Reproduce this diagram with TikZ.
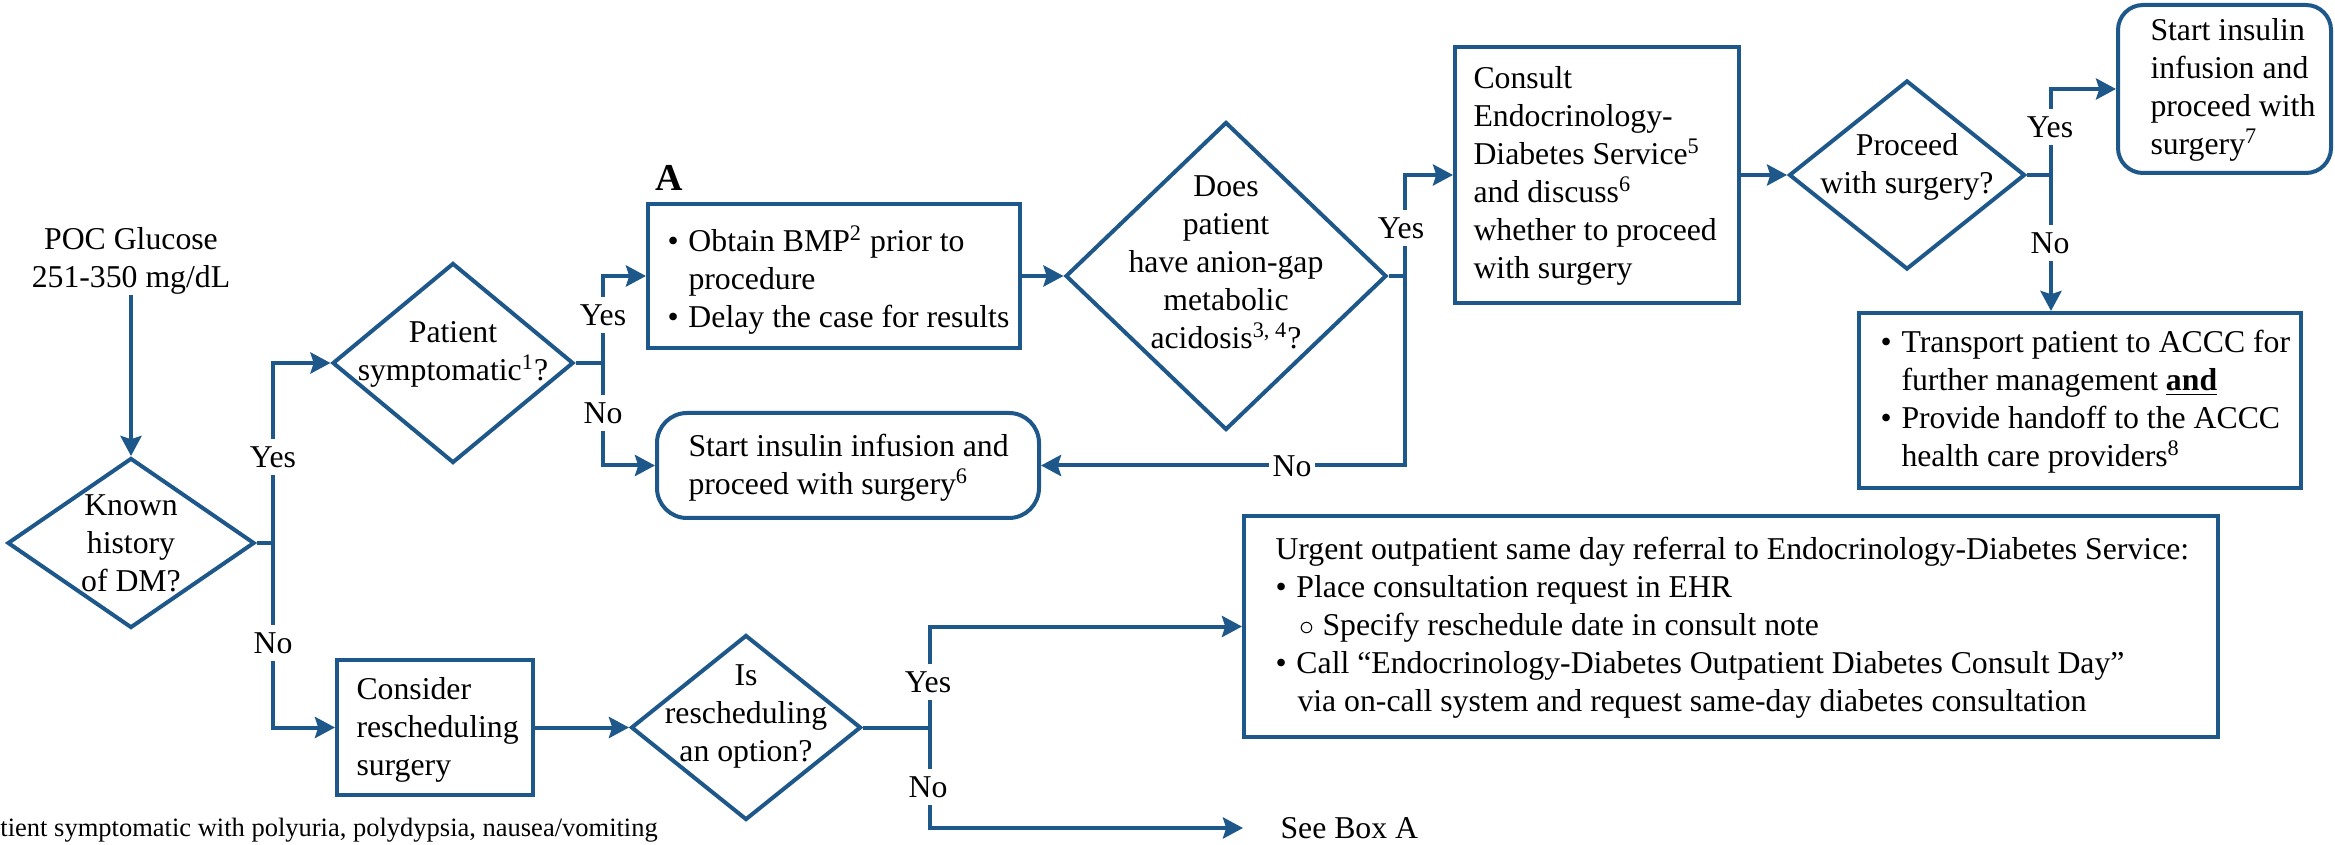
\documentclass[tikz,border=0pt]{standalone}
\usepackage{fontspec}
\setmainfont{Liberation Serif}
\usetikzlibrary{shapes.geometric,arrows.meta}
\definecolor{fb}{RGB}{30,88,138}
\newdimen\px \px=0.4pt
\newcommand{\bul}{\makebox[21\px][l]{\textbullet}}
\newcommand{\sbul}{\makebox[23\px][l]{$\circ$}}
\begin{document}
\begin{tikzpicture}[x=0.4pt,y=-0.4pt, font=\fontsize{12.7pt}{15.2pt}\selectfont,
  ln/.style={draw=fb, line width=1.6pt},
  arr/.style={draw=fb, line width=1.6pt, -{Stealth[length=8pt,width=8.4pt,inset=1.3pt]}},
  dia/.style={ln, diamond, inner sep=0pt},
  boxr/.style={ln, rectangle, inner sep=0pt},
  rbox/.style={ln, rectangle, rounded corners=12pt, inner sep=0pt},
  txt/.style={inner sep=0pt, align=left},
  lab/.style={fill=white, inner xsep=1.5pt, inner ysep=3pt}]
\useasboundingbox (0,0) rectangle (2335,845);

% ---- nodes ----
\node[txt, align=center] (poct) at (131,261) {POC Glucose\\251-350 mg/dL};

\node[dia, minimum width=247\px, minimum height=170\px] (known) at (131,543) {};
\node[txt, align=center] (knownt) at (131,543) {Known\\history\\of DM?};

\node[dia, minimum width=241\px, minimum height=200\px] (sym) at (453,363) {};
\node[txt, align=center] (symt) at (453,354) {Patient\\symptomatic\textsuperscript{1}?};

\node[font=\bfseries\fontsize{15.2pt}{18pt}\selectfont, inner sep=0pt] (Alab) at (669,178) {A};

\node[boxr, minimum width=372\px, minimum height=144\px] (boxA) at (834,276) {};
\node[txt, anchor=west] (boxAt) at (667,280) {\bul Obtain BMP\textsuperscript{2} prior to\\\hspace*{21\px}procedure\\\bul Delay the case for results};

\node[rbox, minimum width=382\px, minimum height=105\px] (ins1) at (848,465.5) {};
\node[txt, anchor=west] (ins1t) at (688,468) {Start insulin infusion and\\proceed with surgery\textsuperscript{6}};

\node[dia, minimum width=321\px, minimum height=308\px] (anion) at (1226,276) {};
\node[txt, align=center] (aniont) at (1226,262) {Does\\patient\\have anion-gap\\metabolic\\acidosis\textsuperscript{3, 4}?};

\node[boxr, minimum width=284\px, minimum height=256\px] (consult) at (1597,175) {};
\node[txt, anchor=west] (consultt) at (1473,176) {Consult\\Endocrinology-\\Diabetes Service\textsuperscript{5}\\and discuss\textsuperscript{6}\\whether to proceed\\with surgery};

\node[dia, minimum width=236\px, minimum height=189\px] (proceed) at (1907,175) {};
\node[txt, align=center] (proceedt) at (1907,167) {Proceed\\with surgery?};

\node[rbox, rounded corners=10pt, minimum width=213\px, minimum height=168\px] (ins2) at (2224.5,89) {};
\node[txt, anchor=west] (ins2t) at (2150,90) {Start insulin\\infusion and\\proceed with\\surgery\textsuperscript{7}};

\node[boxr, minimum width=442\px, minimum height=175\px] (transport) at (2080,400.5) {};
\node[txt, anchor=west] (transportt) at (1880,402) {\bul Transport patient to ACCC for\\\hspace*{21\px}further management \underline{\textbf{and}}\\\bul Provide handoff to the ACCC\\\hspace*{21\px}health care providers\textsuperscript{8}};

\node[boxr, minimum width=196\px, minimum height=135\px] (consider) at (435,727.5) {};
\node[txt, anchor=west] (considert) at (356,730) {Consider\\rescheduling\\surgery};

\node[dia, minimum width=230\px, minimum height=185\px] (isr) at (746,727.5) {};
\node[txt, align=center] (isrt) at (746,716) {Is\\rescheduling\\an option?};

\node[boxr, minimum width=974\px, minimum height=221\px] (urgent) at (1731,626.5) {};
\node[txt, anchor=west] (urgentt) at (1275,628) {Urgent outpatient same day referral to Endocrinology-Diabetes Service:\\\bul Place consultation request in EHR\\\hspace*{24\px}\sbul Specify reschedule date in consult note\\\bul Call “Endocrinology-Diabetes Outpatient Diabetes Consult Day”\\\hspace*{22\px}via on-call system and request same-day diabetes consultation};

\node[txt, anchor=west] (seeA) at (1280,828) {See Box A};
\coordinate (seeAend) at (1243,828);

\node[txt, anchor=west, font=\fontsize{10.6pt}{12pt}\selectfont] (foot) at (0,830) {tient symptomatic with polyuria, polydypsia, nausea/vomiting};

% ---- junctions ----
\coordinate (j1) at (273,543);
\coordinate (j2) at (603,363);
\coordinate (j3) at (1405,276);
\coordinate (j4) at (2051,175);
\coordinate (j5) at (930,727.5);

% ---- connectors ----
\draw[arr] (poct.south) -- (known.north);
\draw[arr] (known.east) -- (j1) |- (sym.west);
\draw[arr] (j1) |- (consider.west);
\draw[arr] (sym.east) -- (j2) |- (boxA.west);
\draw[arr] (j2) |- (ins1.west);
\draw[arr] (boxA.east) -- (anion.west);
\draw[arr] (anion.east) -- (j3) |- (consult.west);
\draw[arr] (j3) |- (ins1.east);
\draw[arr] (consult.east) -- (proceed.west);
\draw[arr] (proceed.east) -- (j4) |- (ins2.west);
\draw[arr] (j4) -- (j4 |- transport.north);
\draw[arr] (consider.east) -- (isr.west);
\draw[arr] (isr.east) -- (j5) |- (urgent.west);
\draw[arr] (j5) |- (seeAend);

% ---- labels ----
\node[lab] (l1) at (273,457) {Yes};
\node[lab] (l2) at (273,643) {No};
\node[lab] (l3) at (603,315) {Yes};
\node[lab] (l4) at (603,413) {No};
\node[lab] (l5) at (1401,228) {Yes};
\node[lab] (l6) at (1292,466) {No};
\node[lab] (l7) at (2050,127) {Yes};
\node[lab] (l8) at (2050,243) {No};
\node[lab] (l9) at (928,682) {Yes};
\node[lab] (l10) at (928,787) {No};
\end{tikzpicture}
\end{document}
